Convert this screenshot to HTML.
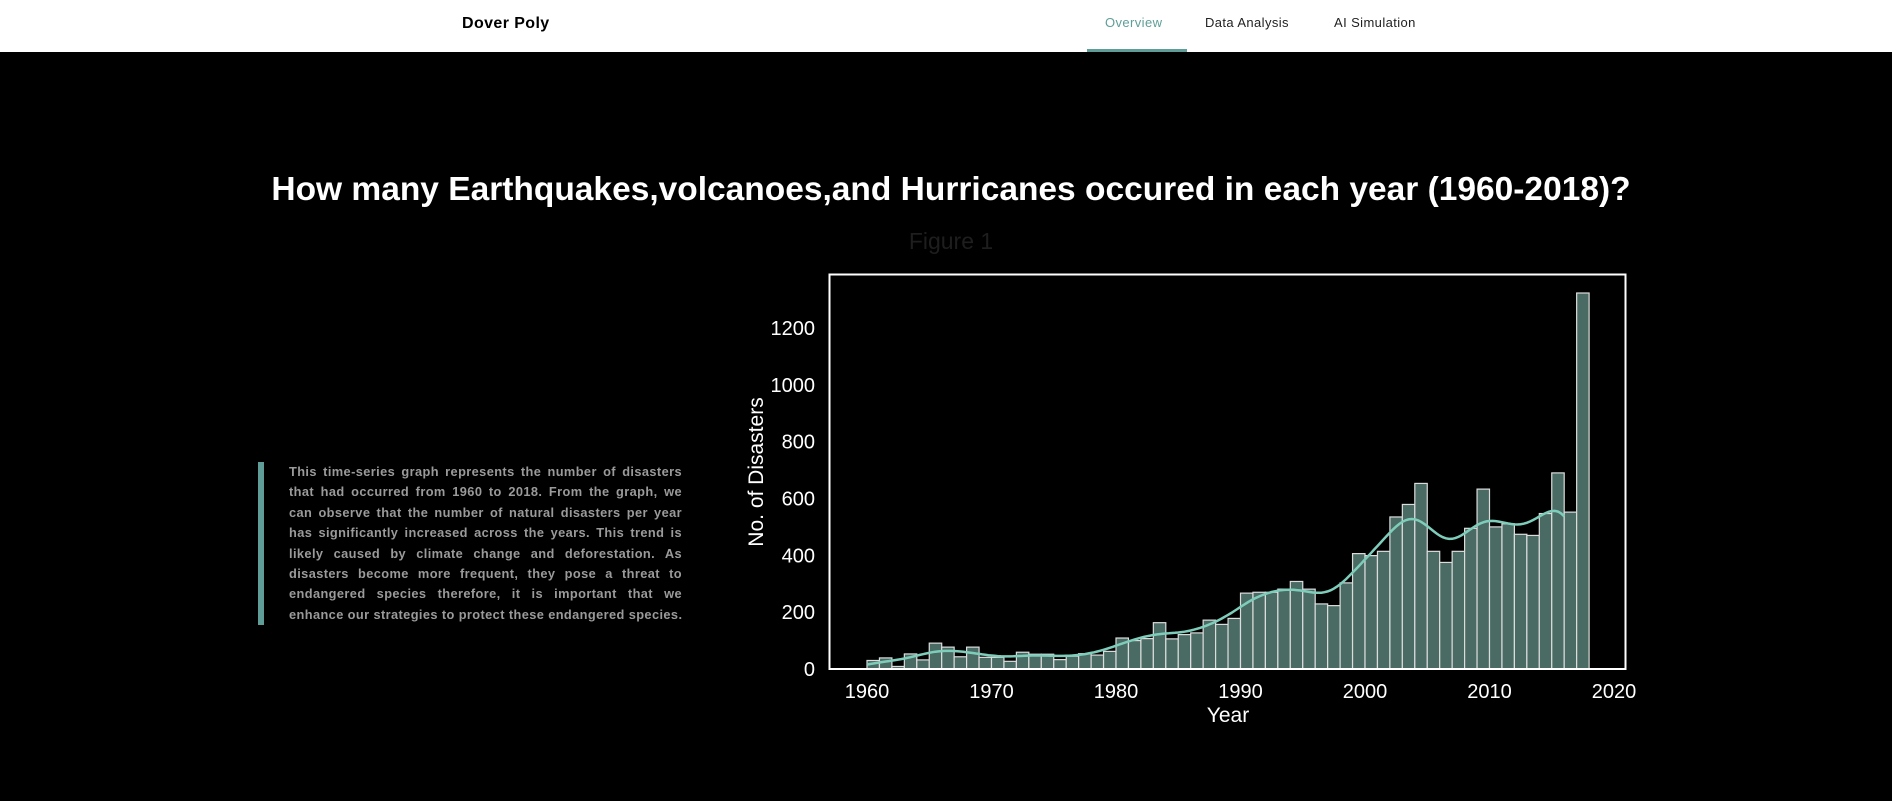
<!DOCTYPE html>
<html><head><meta charset="utf-8"><style>
*{margin:0;padding:0;box-sizing:border-box}
body{width:1892px;height:801px;background:#000;font-family:"Liberation Sans",sans-serif;position:relative;overflow:hidden}
.nav{position:absolute;left:0;top:0;width:1892px;height:52px;background:#fff}
.nav span{position:absolute;top:15px;font-size:13px;color:#222;letter-spacing:0.4px}
.brand{left:462px;top:15px!important;font-weight:bold;font-size:16px!important;color:#000!important}
.ul{position:absolute;left:1087px;top:49px;width:100px;height:3px;background:#5f9e98}
.title{position:absolute;left:0;width:1902px;top:171px;text-align:center;color:#fff;font-weight:bold;font-size:33.5px}
.fig{position:absolute;left:0;width:1902px;top:228px;text-align:center;color:#1e1e1e;font-size:23px}
.qbar{position:absolute;left:258px;top:462px;width:6px;height:163px;background:#5f9e98}
.txt{position:absolute;left:289px;top:462px;width:393px;color:#9a9a9a;font-size:12.8px;font-weight:bold;letter-spacing:0.4px}
.txt div{height:20.4px;line-height:20.4px;text-align:justify;text-align-last:justify;white-space:nowrap}
.txt div.l{text-align-last:left}
</style></head><body>
<div class="nav">
<span class="brand">Dover Poly</span>
<span style="left:1105px;color:#5f9e98">Overview</span>
<span style="left:1205px">Data Analysis</span>
<span style="left:1334px">AI Simulation</span>
<div class="ul"></div>
</div>
<div class="title">How many Earthquakes,volcanoes,and Hurricanes occured in each year (1960-2018)?</div>
<div class="fig">Figure 1</div>
<div class="qbar"></div>
<div class="txt">
<div>This time-series graph represents the number of disasters</div>
<div>that had occurred from 1960 to 2018. From the graph, we</div>
<div>can observe that the number of natural disasters per year</div>
<div>has significantly increased across the years. This trend is</div>
<div>likely caused by climate change and deforestation. As</div>
<div>disasters become more frequent, they pose a threat to</div>
<div>endangered species therefore, it is important that we</div>
<div class="l">enhance our strategies to protect these endangered species.</div>
</div>
<svg id="chart" width="1892" height="801" style="position:absolute;left:0;top:0"></svg>
<script>
const years=[1960,1961,1962,1963,1964,1965,1966,1967,1968,1969,1970,1971,1972,1973,1974,1975,1976,1977,1978,1979,1980,1981,1982,1983,1984,1985,1986,1987,1988,1989,1990,1991,1992,1993,1994,1995,1996,1997,1998,1999,2000,2001,2002,2003,2004,2005,2006,2007,2008,2009,2010,2011,2012,2013,2014,2015,2016,2017];
const counts=[30,39,9,53,32,91,77,43,77,41,41,27,59,52,52,33,45,54,49,62,109,100,107,163,106,121,127,172,157,178,267,270,270,281,308,281,229,223,303,406,399,414,535,579,653,414,375,414,495,633,500,511,474,470,547,690,552,1323];
const yTicks=[0,200,400,600,800,1000,1200];
const xTicks=[1960,1970,1980,1990,2000,2010,2020];
const NS="http://www.w3.org/2000/svg";
const svg=document.getElementById('chart');
const X=v=>867+(v-1960)*12.45;
const Y=v=>669-v*0.2842;
function mk(t,a){const e=document.createElementNS(NS,t);for(const k in a)e.setAttribute(k,a[k]);svg.appendChild(e);return e;}
years.forEach((yr,i)=>{
 const r=mk('rect',{x:X(yr),y:Y(counts[i]),width:X(yr+1)-X(yr),height:Y(0)-Y(counts[i]),fill:'#4a6b63',stroke:'#dcdcdc','stroke-width':1.2});
 
 
});
// KDE-like smoothed line (through 2016); last bin spans two years so weight halved
let pts=[];
const sg=1.6;
for(let x=1960;x<=2016.01;x+=0.25){
 let s=0;
 years.forEach((yr,i)=>{const w=(i===years.length-1)?counts[i]/2:counts[i];const d=x-(yr+0.5);s+=w*Math.exp(-d*d/(2*sg*sg))/(sg*Math.sqrt(2*Math.PI));});
 pts.push(X(x).toFixed(1)+','+Y(s).toFixed(1));
}
const ln=mk('polyline',{points:pts.join(' '),fill:'none',stroke:'#7ecdbb','stroke-width':2.5});


const fr=mk('rect',{x:829.5,y:274.5,width:796,height:394.5,fill:'none',stroke:'#fff','stroke-width':2});


yTicks.forEach(v=>{
 const t=mk('text',{x:815,y:Y(v)+7,'text-anchor':'end',fill:'#fff','font-size':20,'font-family':'Liberation Sans'});
 t.textContent=v;
 
 
});
xTicks.forEach(v=>{
 const t=mk('text',{x:X(v),y:698,'text-anchor':'middle',fill:'#fff','font-size':20,'font-family':'Liberation Sans'});
 t.textContent=v;
 
 
});
const xt=mk('text',{x:1228,y:722,'text-anchor':'middle',fill:'#fff','font-size':21,'font-family':'Liberation Sans'});
xt.textContent='Year';


const yt=mk('text',{x:0,y:0,'text-anchor':'middle',fill:'#fff','font-size':21,'font-family':'Liberation Sans',transform:'translate(763,472) rotate(-90)'});
yt.textContent='No. of Disasters';


</script>
</body></html>
